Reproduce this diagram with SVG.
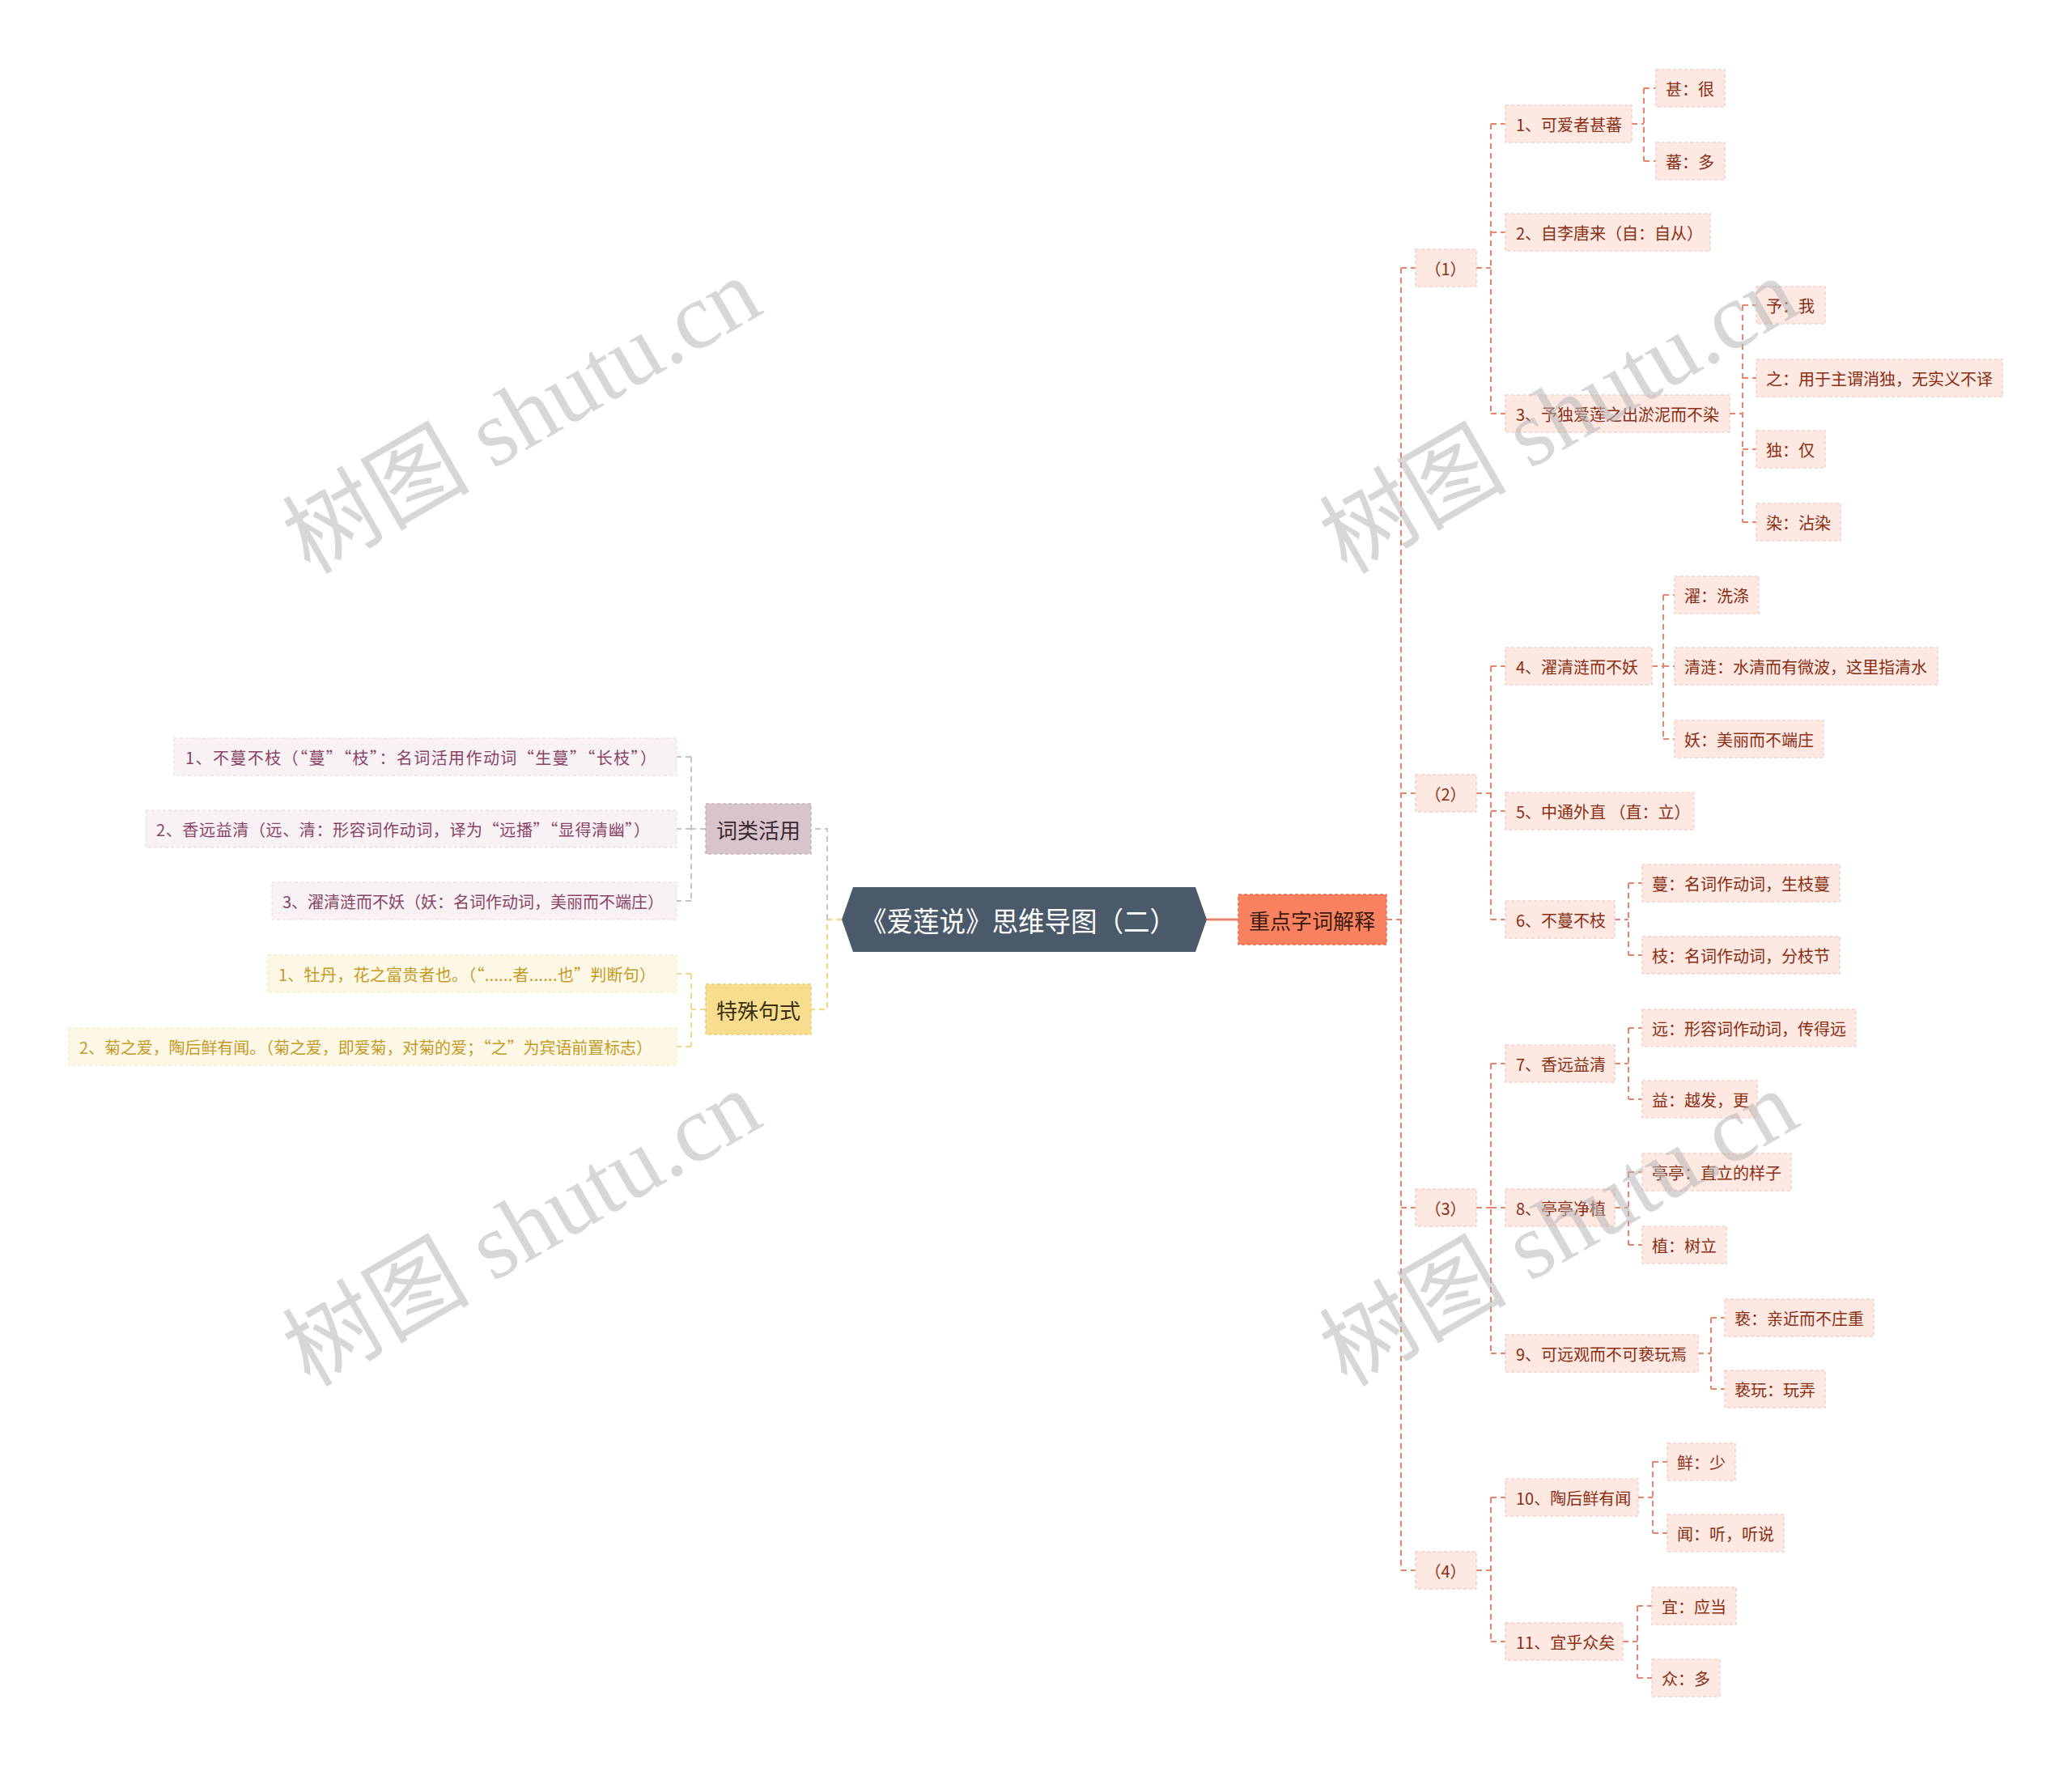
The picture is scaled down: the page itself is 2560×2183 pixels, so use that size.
<svg xmlns="http://www.w3.org/2000/svg" width="2560" height="2183" viewBox="0 0 2560 2183">
<style>
text{font-family:"Noto Sans CJK SC","Noto Sans",sans-serif;dominant-baseline:central}
.rb{fill:#fde8e2;stroke:#f6d0c6;stroke-width:1.5;stroke-dasharray:4 3}
.rt{fill:#8a2e14;font-size:20px}
.lb1{fill:#f8f2f4;stroke:#eee4e8;stroke-width:1.5;stroke-dasharray:4 3}
.lt1{fill:#8a4466;font-size:20px}
.lb2{fill:#fdf8e6;stroke:#f6eccb;stroke-width:1.5;stroke-dasharray:4 3}
.lt2{fill:#c49a26;font-size:20px}
.cr{fill:none;stroke:#e8846c;stroke-width:2;stroke-dasharray:7 5}
.cg{fill:none;stroke:#c9c1c5;stroke-width:2;stroke-dasharray:7 5}
.cy{fill:none;stroke:#f1d98b;stroke-width:2;stroke-dasharray:7 5}
.wm{font-family:"Liberation Serif","Noto Sans CJK SC",serif;font-size:116px;fill:#b8b8b8;opacity:0.55;text-anchor:middle}
</style>
<rect width="2560" height="2183" fill="#ffffff"/>
<g id="connectors">
<path d="M1491 1136 H1530" fill="none" stroke="#e8846c" stroke-width="3"/>
<path class="cr" d="M1713 1136 H1731 M1731 331 V1940 M1731 331 H1749 M1731 980 H1749 M1731 1492 H1749 M1731 1940 H1749"/>
<path class="cr" d="M1824 331 H1842 M1842 153 V511 M1842 153 H1860 M1842 287 H1860 M1842 511 H1860"/>
<path class="cr" d="M1824 980 H1842 M1842 823 V1136 M1842 823 H1860 M1842 1002 H1860 M1842 1136 H1860"/>
<path class="cr" d="M1824 1492 H1842 M1842 1314 V1672 M1842 1314 H1860 M1842 1492 H1860 M1842 1672 H1860"/>
<path class="cr" d="M1824 1940 H1842 M1842 1850 V2028 M1842 1850 H1860 M1842 2028 H1860"/>
<path class="cr" d="M2016 153 H2031 M2031 109 V199 M2031 109 H2046 M2031 199 H2046"/>
<path class="cr" d="M2137 511 H2153 M2153 377 V645 M2153 377 H2170 M2153 467 H2170 M2153 555 H2170 M2153 645 H2170"/>
<path class="cr" d="M2041 823 H2055 M2055 735 V913 M2055 735 H2069 M2055 823 H2069 M2055 913 H2069"/>
<path class="cr" d="M1995 1136 H2012 M2012 1091 V1180 M2012 1091 H2029 M2012 1180 H2029"/>
<path class="cr" d="M1995 1314 H2012 M2012 1270 V1358 M2012 1270 H2029 M2012 1358 H2029"/>
<path class="cr" d="M1995 1492 H2012 M2012 1448 V1538 M2012 1448 H2029 M2012 1538 H2029"/>
<path class="cr" d="M2098 1672 H2114 M2114 1628 V1716 M2114 1628 H2131 M2114 1716 H2131"/>
<path class="cr" d="M2024 1850 H2042 M2042 1806 V1894 M2042 1806 H2060 M2042 1894 H2060"/>
<path class="cr" d="M2005 2028 H2023 M2023 1984 V2073 M2023 1984 H2041 M2023 2073 H2041"/>
<path d="M1040 1136 H1022 V1247 H1002" fill="none" stroke="#f1d98b" stroke-width="2.5" stroke-dasharray="7 5"/>
<path class="cg" d="M1022 1136 V1024 H1002"/>
<path class="cg" d="M872 1024 H854 M854 935 V1113 M854 935 H836 M854 1024 H836 M854 1113 H836"/>
<path class="cy" d="M872 1247 H854 M854 1203 V1293 M854 1203 H836 M854 1293 H836"/>
</g>
<g id="root">
<path d="M1040 1136 L1054 1096 L1477 1096 L1491 1136 L1477 1176 L1054 1176 Z" fill="#4a5a6a"/>
<text x="1063" y="1136" font-size="34" fill="#ffffff" textLength="390" lengthAdjust="spacingAndGlyphs">《爱莲说》思维导图（二）</text>
</g>
<g id="n-zhongdian">
<rect x="1530" y="1105" width="183" height="62" fill="#fa8260" stroke="#e86e4e" stroke-width="1.5" stroke-dasharray="4 3"/>
<text x="1621" y="1136" font-size="26" fill="#3b1a0e" text-anchor="middle">重点字词解释</text>
</g>
<g id="n-cilei">
<rect x="872" y="993" width="130" height="62" fill="#d8c4cc" stroke="#c9b2bb" stroke-width="1.5" stroke-dasharray="4 3"/>
<text x="937" y="1024" font-size="26" fill="#3a2a30" text-anchor="middle">词类活用</text>
</g>
<g id="n-teshu">
<rect x="872" y="1216" width="130" height="62" fill="#f8dd8e" stroke="#eccd72" stroke-width="1.5" stroke-dasharray="4 3"/>
<text x="937" y="1247" font-size="26" fill="#3a3010" text-anchor="middle">特殊句式</text>
</g>
<g id="l-c1"><rect class="lb1" x="215" y="912" width="621" height="46"/><text class="lt1" x="229" y="935" textLength="582" lengthAdjust="spacing">1、不蔓不枝（“蔓”“枝”：名词活用作动词“生蔓”“长枝”）</text></g>
<g id="l-c2"><rect class="lb1" x="180" y="1001" width="656" height="46"/><text class="lt1" x="193" y="1024" textLength="610" lengthAdjust="spacing">2、香远益清（远、清：形容词作动词，译为“远播”“显得清幽”）</text></g>
<g id="l-c3"><rect class="lb1" x="336" y="1090" width="500" height="46"/><text class="lt1" x="349" y="1113">3、濯清涟而不妖（妖：名词作动词，美丽而不端庄）</text></g>
<g id="l-t1"><rect class="lb2" x="331" y="1180" width="505" height="46"/><text class="lt2" x="344" y="1203" textLength="466" lengthAdjust="spacing">1、牡丹，花之富贵者也。（“......者......也”判断句）</text></g>
<g id="l-t2"><rect class="lb2" x="85" y="1270" width="751" height="46"/><text class="lt2" x="98" y="1293" textLength="708" lengthAdjust="spacing">2、菊之爱，陶后鲜有闻。（菊之爱，即爱菊，对菊的爱；“之”为宾语前置标志）</text></g>
<g id="g1"><rect class="rb" x="1749" y="308" width="75" height="46"/><text class="rt" x="1786" y="331" text-anchor="middle">（1）</text></g>
<g id="g2"><rect class="rb" x="1749" y="957" width="75" height="46"/><text class="rt" x="1786" y="980" text-anchor="middle">（2）</text></g>
<g id="g3"><rect class="rb" x="1749" y="1469" width="75" height="46"/><text class="rt" x="1786" y="1492" text-anchor="middle">（3）</text></g>
<g id="g4"><rect class="rb" x="1749" y="1917" width="75" height="46"/><text class="rt" x="1786" y="1940" text-anchor="middle">（4）</text></g>
<g id="s1"><rect class="rb" x="1860" y="130" width="156" height="46"/><text class="rt" x="1873" y="153">1、可爱者甚蕃</text></g>
<g id="s2"><rect class="rb" x="1860" y="264" width="253" height="46"/><text class="rt" x="1873" y="287">2、自李唐来（自：自从）</text></g>
<g id="s3"><rect class="rb" x="1860" y="488" width="277" height="46"/><text class="rt" x="1873" y="511">3、予独爱莲之出淤泥而不染</text></g>
<g id="s4"><rect class="rb" x="1860" y="800" width="181" height="46"/><text class="rt" x="1873" y="823">4、濯清涟而不妖</text></g>
<g id="s5"><rect class="rb" x="1860" y="979" width="233" height="46"/><text class="rt" x="1873" y="1002">5、中通外直 （直：立）</text></g>
<g id="s6"><rect class="rb" x="1860" y="1113" width="135" height="46"/><text class="rt" x="1873" y="1136">6、不蔓不枝</text></g>
<g id="s7"><rect class="rb" x="1860" y="1291" width="135" height="46"/><text class="rt" x="1873" y="1314">7、香远益清</text></g>
<g id="s8"><rect class="rb" x="1860" y="1469" width="135" height="46"/><text class="rt" x="1873" y="1492">8、亭亭净植</text></g>
<g id="s9"><rect class="rb" x="1860" y="1649" width="238" height="46"/><text class="rt" x="1873" y="1672">9、可远观而不可亵玩焉</text></g>
<g id="s10"><rect class="rb" x="1860" y="1827" width="164" height="46"/><text class="rt" x="1873" y="1850">10、陶后鲜有闻</text></g>
<g id="s11"><rect class="rb" x="1860" y="2005" width="145" height="46"/><text class="rt" x="1873" y="2028">11、宜乎众矣</text></g>
<g id="l1"><rect class="rb" x="2046" y="86" width="85" height="46"/><text class="rt" x="2058" y="109">甚：很</text></g>
<g id="l2"><rect class="rb" x="2046" y="176" width="85" height="46"/><text class="rt" x="2058" y="199">蕃：多</text></g>
<g id="l3"><rect class="rb" x="2170" y="354" width="85" height="46"/><text class="rt" x="2182" y="377">予：我</text></g>
<g id="l4"><rect class="rb" x="2170" y="444" width="304" height="46"/><text class="rt" x="2182" y="467">之：用于主谓消独，无实义不译</text></g>
<g id="l5"><rect class="rb" x="2170" y="532" width="85" height="46"/><text class="rt" x="2182" y="555">独：仅</text></g>
<g id="l6"><rect class="rb" x="2170" y="622" width="104" height="46"/><text class="rt" x="2182" y="645">染：沾染</text></g>
<g id="l7"><rect class="rb" x="2069" y="712" width="104" height="46"/><text class="rt" x="2081" y="735">濯：洗涤</text></g>
<g id="l8"><rect class="rb" x="2069" y="800" width="325" height="46"/><text class="rt" x="2081" y="823">清涟：水清而有微波，这里指清水</text></g>
<g id="l9"><rect class="rb" x="2069" y="890" width="184" height="46"/><text class="rt" x="2081" y="913">妖：美丽而不端庄</text></g>
<g id="l10"><rect class="rb" x="2029" y="1068" width="244" height="46"/><text class="rt" x="2041" y="1091">蔓：名词作动词，生枝蔓</text></g>
<g id="l11"><rect class="rb" x="2029" y="1157" width="244" height="46"/><text class="rt" x="2041" y="1180">枝：名词作动词，分枝节</text></g>
<g id="l12"><rect class="rb" x="2029" y="1247" width="264" height="46"/><text class="rt" x="2041" y="1270">远：形容词作动词，传得远</text></g>
<g id="l13"><rect class="rb" x="2029" y="1335" width="142" height="46"/><text class="rt" x="2041" y="1358">益：越发，更</text></g>
<g id="l14"><rect class="rb" x="2029" y="1425" width="184" height="46"/><text class="rt" x="2041" y="1448">亭亭：直立的样子</text></g>
<g id="l15"><rect class="rb" x="2029" y="1515" width="104" height="46"/><text class="rt" x="2041" y="1538">植：树立</text></g>
<g id="l16"><rect class="rb" x="2131" y="1605" width="184" height="46"/><text class="rt" x="2143" y="1628">亵：亲近而不庄重</text></g>
<g id="l17"><rect class="rb" x="2131" y="1693" width="124" height="46"/><text class="rt" x="2143" y="1716">亵玩：玩弄</text></g>
<g id="l18"><rect class="rb" x="2060" y="1783" width="84" height="46"/><text class="rt" x="2072" y="1806">鲜：少</text></g>
<g id="l19"><rect class="rb" x="2060" y="1871" width="144" height="46"/><text class="rt" x="2072" y="1894">闻：听，听说</text></g>
<g id="l20"><rect class="rb" x="2041" y="1961" width="104" height="46"/><text class="rt" x="2053" y="1984">宜：应当</text></g>
<g id="l21"><rect class="rb" x="2041" y="2050" width="84" height="46"/><text class="rt" x="2053" y="2073">众：多</text></g>
<g id="watermarks">
<text class="wm" x="645" y="514" transform="rotate(-30 645 514)">树图 shutu.cn</text>
<text class="wm" x="645" y="1518" transform="rotate(-30 645 1518)">树图 shutu.cn</text>
<text class="wm" x="1926" y="514" transform="rotate(-30 1926 514)">树图 shutu.cn</text>
<text class="wm" x="1926" y="1518" transform="rotate(-30 1926 1518)">树图 shutu.cn</text>
</g>
</svg>
